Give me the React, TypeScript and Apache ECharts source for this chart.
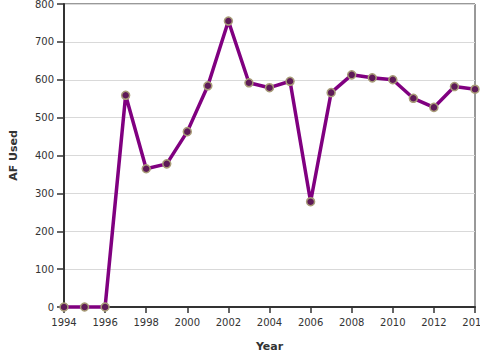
import React, { useEffect, useRef } from "react";
import * as echarts from "echarts";

const years = [1994, 1995, 1996, 1997, 1998, 1999, 2000, 2001, 2002, 2003, 2004, 2005, 2006, 2007, 2008, 2009, 2010, 2011, 2012, 2013, 2014];
const afUsed = [0, 0, 0, 559, 365, 378, 463, 584, 755, 592, 579, 596, 278, 566, 613, 605, 600, 551, 527, 582, 575];

export default function App() {
  const ref = useRef<HTMLDivElement>(null);
  useEffect(() => {
    if (!ref.current) return;
    const chart = echarts.init(ref.current, null, { renderer: "svg" });
    const font = "DejaVu Sans";
    chart.setOption({
      animation: false,
      textStyle: { fontFamily: font },
      grid: {
        left: 64, right: 5, top: 4, bottom: 53,
        show: true, borderColor: "#333", borderWidth: 1,
        containLabel: false, outerBoundsMode: "none",
      },
      xAxis: {
        type: "value",
        min: 1994,
        max: 2014,
        interval: 2,
        name: "Year",
        nameLocation: "middle",
        nameGap: 34,
        nameTextStyle: { fontFamily: font, fontWeight: "bold", fontSize: 11, color: "#333" },
        axisLine: { show: true, lineStyle: { color: "#333", width: 2 } },
        axisTick: { show: true, inside: false, length: 6, lineStyle: { color: "#333", width: 1.5 } },
        axisLabel: { fontFamily: font, fontSize: 10, color: "#333", margin: 10, formatter: (v: number) => String(v), showMaxLabel: true, hideOverlap: false },
        splitLine: { show: false },
      },
      yAxis: {
        type: "value",
        min: 0,
        max: 800,
        interval: 100,
        name: "AF Used",
        nameLocation: "middle",
        nameGap: 45,
        nameRotate: 90,
        nameTextStyle: { fontFamily: font, fontWeight: "bold", fontSize: 11, color: "#333" },
        axisLine: { show: true, lineStyle: { color: "#333", width: 2 } },
        axisTick: { show: true, inside: false, length: 7, lineStyle: { color: "#333", width: 1.5 } },
        axisLabel: { fontFamily: font, fontSize: 10, color: "#333", margin: 10 },
        splitLine: { show: true, lineStyle: { color: "#d9d9d9", width: 1 } },
      },
      series: [
        {
          type: "line",
          data: years.map((y, i) => [y, afUsed[i]]),
          lineStyle: { color: "#800080", width: 3.5 },
          symbol: "circle",
          symbolSize: 8,
          itemStyle: { color: "#5e1a58", borderColor: "#a89c78", borderWidth: 1.5 },
          clip: false,
          z: 3,
        },
      ],
    });
    return () => chart.dispose();
  }, []);
  return <div ref={ref} style={{ width: 480, height: 360, position: "absolute", left: 0, top: 0 }} />;
}
